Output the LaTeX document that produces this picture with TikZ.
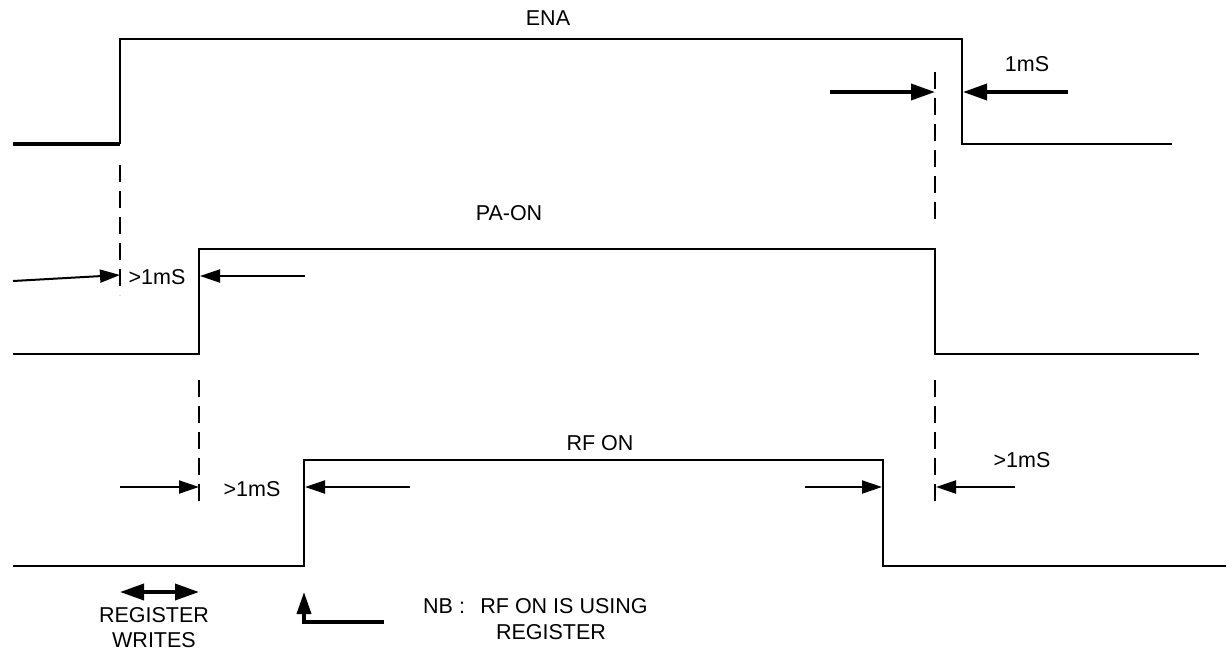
\documentclass[tikz,border=0pt]{standalone}
\usepackage{fontspec}
\setmainfont{Liberation Sans}
\usetikzlibrary{arrows.meta}
\begin{document}
\begin{tikzpicture}[x=1pt,y=-1pt,
  sig/.style={line width=2.2pt, line join=miter},
  sigthick/.style={line width=3.6pt},
  dashline/.style={line width=2pt, dash pattern=on 17pt off 9pt},
  dimarrow/.style={line width=2pt, -{Triangle[length=20pt,width=13pt]}},
  dimthick/.style={line width=3.6pt, -{Triangle[length=24pt,width=16pt]}},
  dblthick/.style={line width=3.6pt, {Triangle[length=24pt,width=16pt]}-{Triangle[length=24pt,width=16pt]}},
  lbl/.style={font=\fontsize{21.5}{25}\selectfont, inner sep=0pt, align=center}]
\useasboundingbox (0,0) rectangle (1232,651);

% ---------- ENA ----------
\coordinate (enaA) at (13,144);
\coordinate (enaB) at (120,144);
\coordinate (enaC) at (120,39);
\coordinate (enaD) at (962,39);
\coordinate (enaE) at (962,144);
\coordinate (enaF) at (1172,144);
\draw[sigthick] (enaA) -- (enaB);
\draw[sig] (enaB) -- (enaC) -- (enaD) -- (enaE) -- (enaF);
\node[lbl] (enaL) at (548,18) {ENA};

% ENA 1mS dimension
\coordinate (d1top) at (935,72);
\coordinate (d1bot) at (935,224);
\draw[dashline] (d1top) -- (d1bot);
\coordinate (a1s) at (830,92);
\coordinate (a1e) at (935,92);
\coordinate (a2s) at (1068,92);
\coordinate (a2e) at (963,92);
\draw[dimthick] (a1s) -- (a1e);
\draw[dimthick] (a2s) -- (a2e);
\node[lbl] (oneMS) at (1027,64) {1mS};

% ---------- PA-ON ----------
\coordinate (d2top) at (120,165);
\coordinate (d2bot) at (120,295);
\draw[dashline] (d2top) -- (d2bot);
\coordinate (paA) at (13,354);
\coordinate (paB) at (199,354);
\coordinate (paC) at (199,249);
\coordinate (paD) at (935,249);
\coordinate (paE) at (935,354);
\coordinate (paF) at (1199,354);
\draw[sig] (paA) -- (paB) -- (paC) -- (paD) -- (paE) -- (paF);
\node[lbl] (paL) at (509,213) {PA-ON};

\coordinate (b1s) at (13,281);
\coordinate (b1e) at (120,275);
\coordinate (b2s) at (305,276);
\coordinate (b2e) at (200,276);
\draw[dimarrow] (b1s) -- (b1e);
\draw[dimarrow] (b2s) -- (b2e);
\node[lbl] (gt1) at (157,277) {>1mS};

% ---------- RF ON ----------
\coordinate (d3top) at (199,380);
\coordinate (d3bot) at (199,506);
\coordinate (d4top) at (935,380);
\coordinate (d4bot) at (935,506);
\draw[dashline] (d3top) -- (d3bot);
\draw[dashline] (d4top) -- (d4bot);
\coordinate (rfA) at (13,566);
\coordinate (rfB) at (304,566);
\coordinate (rfC) at (304,460);
\coordinate (rfD) at (883,460);
\coordinate (rfE) at (883,566);
\coordinate (rfF) at (1226,566);
\draw[sig] (rfA) -- (rfB) -- (rfC) -- (rfD) -- (rfE) -- (rfF);
\node[lbl] (rfL) at (600,443) {RF ON};

\coordinate (c1s) at (120,487);
\coordinate (c1e) at (199,487);
\coordinate (c2s) at (410,487);
\coordinate (c2e) at (305,487);
\coordinate (c3s) at (805,487);
\coordinate (c3e) at (882,487);
\coordinate (c4s) at (1015,487);
\coordinate (c4e) at (936,487);
\draw[dimarrow] (c1s) -- (c1e);
\draw[dimarrow] (c2s) -- (c2e);
\draw[dimarrow] (c3s) -- (c3e);
\draw[dimarrow] (c4s) -- (c4e);
\node[lbl] (gt2) at (252,489) {>1mS};
\node[lbl] (gt3) at (1022,460) {>1mS};

% ---------- Register writes ----------
\coordinate (rwL) at (120,592);
\coordinate (rwR) at (199,592);
\draw[dblthick] (rwL) -- (rwR);
\node[lbl] (rwT) at (154,628) {REGISTER\\WRITES};

% ---------- NB ----------
\coordinate (nbS) at (384,622);
\coordinate (nbC) at (304,622);
\coordinate (nbE) at (304,592);
\draw[line width=3.6pt, -{Triangle[length=22pt,width=14pt]}] (nbS) -- (nbC) -- (nbE);
\node[lbl, anchor=west] (nbL) at (423,606) {NB :};
\node[lbl] (nbT1) at (564,606) {RF ON IS USING};
\node[lbl] (nbT2) at (551,632) {REGISTER};
\end{tikzpicture}
\end{document}
